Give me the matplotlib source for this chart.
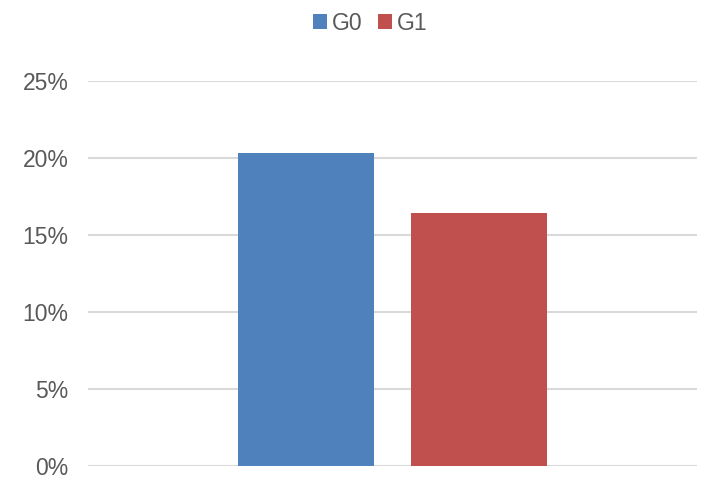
import matplotlib.pyplot as plt
from matplotlib.ticker import PercentFormatter

plt.rcParams['font.family'] = ['Liberation Sans', 'DejaVu Sans']

# data
groups = ['G0', 'G1']
values = [0.2026, 0.1640]
colors = ['#4F81BD', '#C0504D']
yticks = [0, 0.05, 0.10, 0.15, 0.20, 0.25]

fig = plt.figure(figsize=(7.08, 4.89), dpi=100)
ax = fig.add_axes([88 / 708, 22.5 / 489, 609 / 708, 385 / 489])

width = 0.2233
offsets = [-0.142, 0.142]
for name, val, col, off in zip(groups, values, colors, offsets):
    ax.bar(0 + off, val, width=width, color=col, label=name, zorder=3)

ax.set_xlim(-0.5, 0.5)
ax.set_ylim(0, 0.25)
ax.set_yticks(yticks)
ax.yaxis.set_major_formatter(PercentFormatter(1.0, decimals=0))
ax.set_xticks([])
ax.grid(axis='y', color='#D9D9D9', linewidth=1.5, zorder=0)
ax.tick_params(axis='y', length=0, labelsize=16.5, labelcolor='#595959', pad=14)
for s in ax.spines.values():
    s.set_visible(False)

leg = fig.legend(loc='center', bbox_to_anchor=(0.523, 1 - 24 / 489), ncol=2,
                 frameon=False, fontsize=16.5, handlelength=0.6, handleheight=0.6,
                 handletextpad=0.2, columnspacing=0.7, labelcolor='#595959')

fig.savefig('out.png', dpi=100)
